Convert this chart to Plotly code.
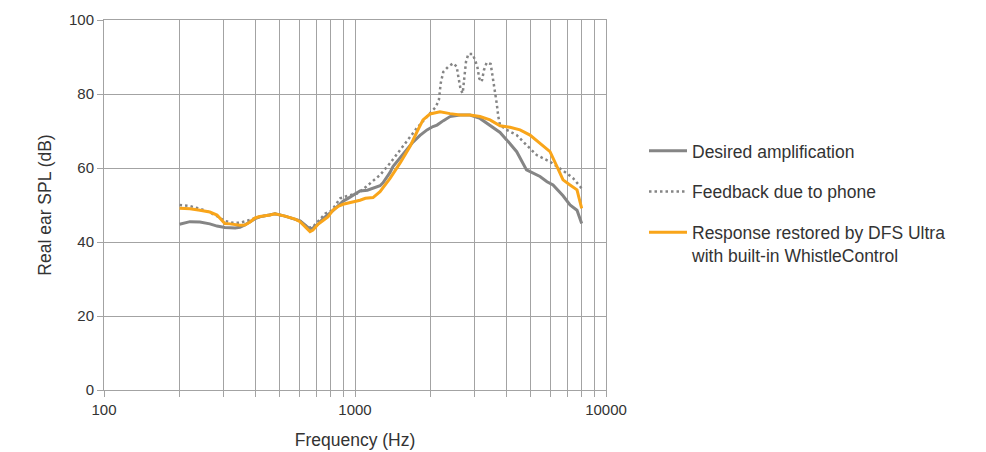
import plotly.graph_objects as go

# Desired amplification (solid gray)
desired_f = [200, 220, 241, 264, 282, 303, 333, 348, 364, 400, 418, 458, 480, 526, 577, 604, 632, 650,
             662, 680, 712, 746, 780, 817, 856, 896, 938, 1000, 1047, 1120, 1180, 1258, 1293, 1379, 1417,
             1511, 1612, 1702, 1815, 1936, 2045, 2122, 2250, 2391, 2620, 2872, 3148, 3451, 3783, 4021,
             4408, 4823, 5459, 5822, 6151, 6742, 7189, 7664, 8000]
desired_db = [44.8, 45.5, 45.4, 44.9, 44.3, 43.9, 43.8, 44.0, 44.6, 46.3, 46.8, 47.3, 47.6, 47.0, 46.2,
              45.7, 44.6, 43.8, 43.5, 43.8, 44.8, 46.3, 47.3, 48.5, 49.8, 51.0, 51.8, 53.0, 53.8, 54.0,
              54.5, 55.2, 56.0, 58.8, 60.4, 62.8, 64.9, 67.0, 68.8, 70.3, 71.2, 71.6, 72.8, 73.9, 74.3,
              74.3, 73.4, 71.6, 69.6, 67.6, 64.4, 59.5, 57.7, 56.3, 55.4, 52.5, 50.0, 48.6, 45.0]

# Feedback due to phone (dotted gray)
feedback_f = [200, 220, 241, 264, 282, 303, 326, 348, 371, 400, 418, 458, 480, 526, 577, 604, 632, 650,
              680, 728, 762, 808, 872, 938, 1029, 1110, 1258, 1379, 1511, 1656, 1760, 1936, 2040, 2100,
              2160, 2195, 2248, 2353, 2464, 2542, 2580, 2637, 2686, 2726, 2768, 2828, 2943, 3006, 3071,
              3127, 3197, 3265, 3347, 3472, 3537, 3613, 3669, 3724, 3783, 4021, 4408, 4823, 5296, 5984,
              6558, 6970, 7406, 7875, 8000]
feedback_db = [50.0, 49.7, 49.0, 48.0, 47.0, 45.7, 45.2, 45.2, 45.7, 46.5, 46.9, 47.3, 47.6, 47.0, 46.2,
               45.7, 44.6, 43.8, 44.1, 46.4, 47.7, 48.5, 51.8, 52.5, 53.2, 55.0, 58.1, 61.3, 64.9, 68.5,
               70.7, 73.9, 75.7, 76.5, 78.5, 82.9, 86.0, 87.4, 88.3, 87.4, 84.7, 81.1, 80.2, 83.8, 88.7,
               90.8, 90.8, 89.2, 87.4, 84.2, 83.3, 86.5, 88.5, 88.1, 84.7, 81.1, 77.5, 73.9, 71.6, 70.3,
               68.9, 66.2, 63.5, 61.7, 59.9, 58.6, 57.2, 55.1, 54.5]

# Response restored by DFS Ultra (orange)
restored_f = [200, 220, 241, 264, 282, 295, 303, 318, 348, 364, 382, 400, 418, 458, 480, 526, 577, 604,
              632, 650, 662, 680, 712, 746, 780, 817, 856, 896, 938, 1000, 1047, 1100, 1180, 1258, 1379,
              1511, 1656, 1766, 1866, 1990, 2181, 2391, 2620, 2872, 3148, 3451, 3783, 4146, 4544, 4980,
              5459, 5984, 6380, 6742, 7189, 7664, 8000]
restored_db = [49.1, 49.0, 48.6, 48.1, 47.3, 46.0, 45.0, 44.9, 44.5, 44.6, 45.4, 46.5, 46.9, 47.3, 47.6,
               47.0, 46.2, 45.5, 44.2, 43.2, 42.8, 43.2, 44.8, 45.8, 46.8, 48.6, 49.6, 50.2, 50.5, 50.8,
               51.3, 51.8, 52.0, 53.6, 57.2, 61.3, 65.8, 69.8, 73.0, 74.6, 75.2, 74.7, 74.3, 74.3, 73.9,
               73.0, 71.4, 71.0, 70.3, 68.9, 66.7, 64.4, 60.4, 56.8, 55.4, 54.1, 49.1]

x_tickvals = [100, 200, 300, 400, 500, 600, 700, 800, 900, 1000, 2000, 3000, 4000, 5000, 6000, 7000,
              8000, 9000, 10000]
x_ticktext = ["100", "", "", "", "", "", "", "", "", "1000", "", "", "", "", "", "", "", "", "10000"]
y_tickvals = [0, 20, 40, 60, 80, 100]

GRAY = "#858585"
ORANGE = "#F9A51A"
GRID = "#a3a3a3"

fig = go.Figure()
fig.add_trace(go.Scatter(x=desired_f, y=desired_db, mode="lines", name="Desired amplification",
                         legendgroup="a", line=dict(color=GRAY, width=3)))
fig.add_trace(go.Scatter(x=feedback_f, y=feedback_db, mode="lines", name="Feedback due to phone",
                         legendgroup="b", line=dict(color=GRAY, width=2.5, dash="2.5px,3px")))
fig.add_trace(go.Scatter(x=restored_f, y=restored_db, mode="lines",
                         name="Response restored by DFS Ultra<br>with built-in WhistleControl",
                         legendgroup="c", line=dict(color=ORANGE, width=3)))

fig.update_layout(
    width=986, height=452,
    margin=dict(l=96, r=388, t=12, b=70, autoexpand=False),
    paper_bgcolor="white", plot_bgcolor="white",
    font=dict(family="Liberation Sans, Arial, sans-serif", size=15, color="#333333"),
    showlegend=True,
    legend=dict(x=1.0757, y=0.695, xanchor="left", yanchor="top", font=dict(size=17.5, color="#333333"),
                tracegroupgap=15, valign="top", itemwidth=38, bgcolor="rgba(0,0,0,0)"),
)
fig.update_xaxes(type="log", range=[2, 4], tickvals=x_tickvals, ticktext=x_ticktext,
                 showgrid=True, gridcolor=GRID, gridwidth=1,
                 showline=True, linecolor=GRID, linewidth=1, mirror=True,
                 ticks="outside", ticklen=6, tickcolor=GRID,
                 zeroline=False, automargin=False,
                 title=dict(text="Frequency (Hz)", font=dict(size=17.5), standoff=16))
fig.update_yaxes(range=[0, 100], tickvals=y_tickvals,
                 showgrid=True, gridcolor=GRID, gridwidth=1,
                 showline=True, linecolor=GRID, linewidth=1, mirror=True,
                 ticks="outside", ticklen=6, tickcolor=GRID,
                 zeroline=False, automargin=False,
                 title=dict(text="Real ear SPL (dB)", font=dict(size=17.5), standoff=12))

fig.write_html("out.html")
